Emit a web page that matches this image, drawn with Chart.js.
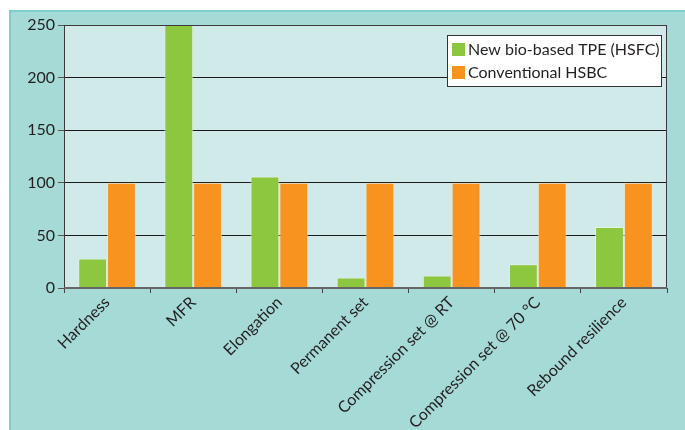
<!DOCTYPE html>
<html>
<head>
<meta charset="utf-8">
<script src="https://cdn.jsdelivr.net/npm/chart.js@4"></script>
<style>
  html, body { margin: 0; padding: 0; background: #fff; }
  #wrap { width: 685px; height: 430px; position: relative; }
</style>
</head>
<body>
<div id="wrap"><canvas id="chart" width="685" height="430"></canvas></div>
<script>
const categories = ['Hardness', 'MFR', 'Elongation', 'Permanent set', 'Compression set @ RT', 'Compression set @ 70 °C', 'Rebound resilience'];
const bioTpe = [28, 250, 106, 10, 12, 22.5, 58];
const conventional = [100, 100, 100, 100, 100, 100, 100];
const yTicks = [0, 50, 100, 150, 200, 250];

const FONT = 'Lato';

// background frame, plot fill, plot border and the boxed legend
const framePlugin = {
  id: 'frame',
  beforeDraw(chart) {
    const ctx = chart.ctx;
    const a = chart.chartArea;
    ctx.save();
    ctx.fillStyle = '#ffffff';
    ctx.fillRect(0, 0, chart.width, chart.height);
    ctx.fillStyle = '#7fcfca';
    ctx.fillRect(9, 10, chart.width - 9, chart.height - 10);
    ctx.fillStyle = '#a5dad7';
    ctx.fillRect(11, 12, chart.width - 11, chart.height - 12);
    ctx.fillStyle = '#d0e9e9';
    ctx.fillRect(a.left, a.top, a.right - a.left, a.bottom - a.top);
    ctx.restore();
  },
  afterDatasetsDraw(chart) {
    const ctx = chart.ctx;
    const a = chart.chartArea;
    ctx.save();
    ctx.strokeStyle = '#3a3a3a';
    ctx.lineWidth = 1;
    ctx.strokeRect(a.left + 0.5, a.top + 0.5, a.right - a.left - 1, a.bottom - a.top);
    ctx.strokeStyle = '#666';
    ctx.lineWidth = 2;
    ctx.beginPath();
    ctx.moveTo(a.left, a.bottom);
    ctx.lineTo(a.right, a.bottom);
    ctx.stroke();

    // legend box
    const x = 447, y = 35, w = 214, h = 51;
    ctx.fillStyle = '#ffffff';
    ctx.fillRect(x, y, w, h);
    ctx.strokeStyle = '#333';
    ctx.lineWidth = 1;
    ctx.strokeRect(x + 0.5, y + 0.5, w, h);
    ctx.font = '16px ' + FONT;
    ctx.textBaseline = 'middle';
    chart.data.datasets.forEach((ds, i) => {
      const cy = y + 14 + i * 23;
      ctx.fillStyle = ds.backgroundColor;
      ctx.fillRect(x + 5, cy - 6, 13, 13);
      ctx.fillStyle = '#231f20';
      ctx.fillText(ds.label, x + 21, cy + 1);
    });
    ctx.restore();
  }
};

const ctx = document.getElementById('chart').getContext('2d');
new Chart(ctx, {
  type: 'bar',
  data: {
    labels: categories,
    datasets: [
      {
        label: 'New bio-based TPE (HSFC)',
        data: bioTpe,
        backgroundColor: '#8dc63f',
        borderColor: 'rgba(235,245,225,0.7)',
        borderWidth: 1,
        categoryPercentage: 0.67,
        barPercentage: 1.0,
      },
      {
        label: 'Conventional HSBC',
        data: conventional,
        backgroundColor: '#f7931e',
        borderColor: 'rgba(250,230,200,0.7)',
        borderWidth: 1,
        categoryPercentage: 0.67,
        barPercentage: 1.0,
      },
    ],
  },
  options: {
    responsive: false,
    animation: false,
    layout: { padding: { left: 0, right: 18, top: 25, bottom: 0 } },
    plugins: {
      legend: { display: false },
      tooltip: { enabled: false },
    },
    scales: {
      x: {
        afterFit: (scale) => { scale.height = 142; },
        grid: {
          offset: true,
          drawOnChartArea: false,
          tickLength: 5,
          color: '#444',
        },
        border: { display: false },
        ticks: {
          minRotation: 45,
          maxRotation: 45,
          autoSkip: false,
          labelOffset: 0,
          padding: 0,
          color: '#231f20',
          font: { family: FONT, size: 16 },
        },
      },
      y: {
        min: 0,
        max: 250,
        afterFit: (scale) => { scale.width = 64; },
        afterBuildTicks: (scale) => { scale.ticks = yTicks.map((v) => ({ value: v })); },
        grid: {
          color: '#1a1a1a',
          tickLength: 6,
          tickColor: '#555',
        },
        border: { display: true, color: '#555' },
        ticks: {
          padding: 3,
          color: '#231f20',
          font: { family: FONT, size: 16 },
        },
      },
    },
  },
  plugins: [framePlugin],
});
</script>
</body>
</html>
